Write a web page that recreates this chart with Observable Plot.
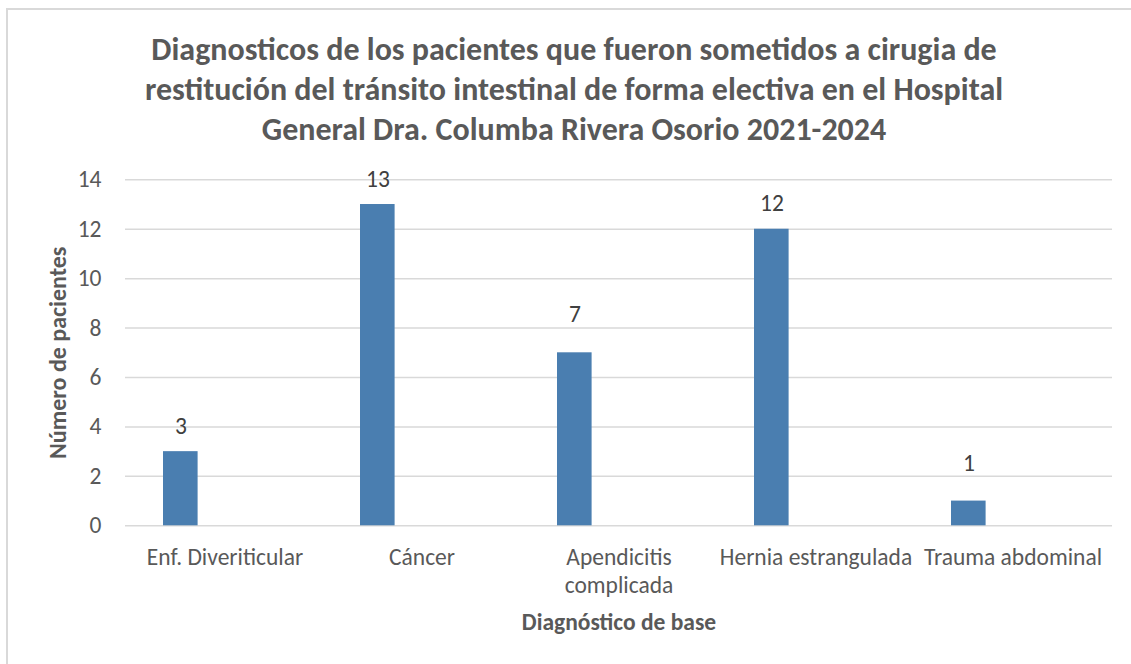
<!DOCTYPE html>
<html>
<head>
<meta charset="utf-8">
<script src="https://cdn.jsdelivr.net/npm/d3@7"></script>
<script src="https://cdn.jsdelivr.net/npm/@observablehq/plot@0.6"></script>
<style>
  html, body { margin: 0; padding: 0; background: #fff; }
  body { width: 1131px; height: 664px; overflow: hidden; position: relative; font-family: Carlito, Lato, sans-serif; }
  #frame { position: absolute; left: 6px; top: 8px; width: 1200px; height: 720px; border: 2px solid #d9d9d9; box-sizing: border-box; }
  #title { position: absolute; left: 0; top: 30px; width: 1148px; text-align: center; font-weight: bold; font-size: 32px; line-height: 40px; color: #595959; }
  #chart { position: absolute; left: 0; top: 150px; }
</style>
</head>
<body>
<div id="frame"></div>
<div id="title">Diagnosticos de los pacientes que fueron sometidos a cirugia de<br>restitución del tránsito intestinal de forma electiva en el Hospital<br>General Dra. Columba Rivera Osorio 2021-2024</div>
<div id="chart"></div>
<script>
const categories = ["Enf. Diveriticular", "Cáncer", "Apendicitis complicada", "Hernia estrangulada", "Trauma abdominal"];
const tickLabels = ["Enf. Diveriticular", "Cáncer", "Apendicitis\ncomplicada", "Hernia estrangulada", "Trauma abdominal"];
const values = [3, 13, 7, 12, 1];
const yTicks = [0, 2, 4, 6, 8, 10, 12, 14];
const yLabel = "Número de pacientes";
const xLabel = "Diagnóstico de base";

// style: data labels that sit higher above their bar in the reference
const raisedLabels = new Set(["Apendicitis complicada", "Trauma abdominal"]);

const data = categories.map((c, i) => ({cat: c, value: values[i]}));
const labelOf = new Map(categories.map((c, i) => [c, tickLabels[i]]));
const font = "Carlito, Lato, sans-serif";
const fs = 23.5;

const chart = Plot.plot({
  width: 1131,
  height: 500,
  marginLeft: 125,
  marginRight: 19,
  marginTop: 29.3,
  marginBottom: 124.7,
  style: {fontFamily: font, fontSize: fs + "px", color: "#595959", background: "transparent", overflow: "visible"},
  x: {domain: categories, padding: 0, label: null},
  y: {domain: [0, 14], label: null},
  marks: [
    Plot.gridY(yTicks, {stroke: "#d9d9d9", strokeOpacity: 1, strokeWidth: 1.5}),
    Plot.barY(data, {x: "cat", y: "value", fill: "#4a7eb0", insetLeft: 37, insetRight: 125.4}),
    Plot.text(data, {filter: d => !raisedLabels.has(d.cat), x: "cat", y: "value", text: d => String(d.value), dx: -44, dy: -25.5, fill: "#404040", fontSize: fs}),
    Plot.text(data, {filter: d => raisedLabels.has(d.cat), x: "cat", y: "value", text: d => String(d.value), dx: -44, dy: -38, fill: "#404040", fontSize: fs}),
    Plot.axisY(yTicks, {tickSize: 0, tickPadding: 24, fontSize: fs, fill: "#595959", label: null}),
    Plot.axisX({tickSize: 0, tickPadding: 19, fontSize: fs, fill: "#595959", lineHeight: 1.2, tickFormat: d => labelOf.get(d), label: null}),
    Plot.text([yLabel], {frameAnchor: "left", textAnchor: "middle", lineAnchor: "middle", dx: -67, rotate: -90, fontWeight: "bold", fontSize: 24, fill: "#595959"}),
    Plot.text([xLabel], {frameAnchor: "bottom", textAnchor: "middle", lineAnchor: "middle", dy: 97, fontWeight: "bold", fontSize: fs, fill: "#595959"})
  ]
});
document.getElementById("chart").appendChild(chart);
</script>
</body>
</html>
